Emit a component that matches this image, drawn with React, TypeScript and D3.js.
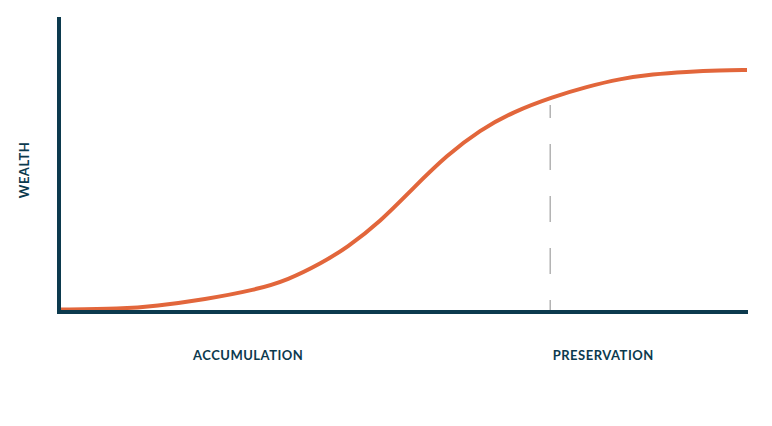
import { useRef, useEffect } from 'react';
import * as d3 from 'd3';

// Wealth curve (time 0-100, wealth 0-100)
const timeValues = [0, 9.1, 14, 21.2, 28.5, 33.3, 38.2, 41.8, 46.7, 51.5, 56.4, 61.2, 66, 71.8, 76.7, 81.5, 86.3, 91.2, 96.1, 100];
const wealthValues = [0.85, 1.1, 2.0, 4.3, 7.5, 10.9, 16.7, 21.8, 30.7, 42.2, 53.4, 61.9, 68.1, 73.2, 76.6, 79.3, 80.9, 81.7, 82.2, 82.3];

const phaseLabels = ['ACCUMULATION', 'PRESERVATION'];
const phaseCenters = [27.5, 79.1];
const phaseBoundary = 71.4;
const yAxisLabel = 'WEALTH';

const width = 772;
const height = 426;
const margin = { top: 17, right: 25, bottom: 114, left: 59 };

const navy = '#0c3a4e';
const orange = '#e2663b';
const font = 'Lato, "Open Sans", sans-serif';

export default function App() {
  const svgRef = useRef<SVGSVGElement>(null);

  useEffect(() => {
    if (!svgRef.current) return;
    const svg = d3.select(svgRef.current);
    svg.selectAll('*').remove();

    const x = d3.scaleLinear().domain([0, 100]).range([margin.left, 747]);
    const y = d3.scaleLinear().domain([0, 100]).range([312, 18]);

    const points = timeValues.map((t, i) => [t, wealthValues[i]] as [number, number]);

    // dashed boundary between phases
    svg.append('line')
      .attr('x1', x(phaseBoundary))
      .attr('x2', x(phaseBoundary))
      .attr('y1', 105)
      .attr('y2', y(0))
      .attr('stroke', '#b3b3b3')
      .attr('stroke-width', 1.5)
      .attr('stroke-dasharray', '26 26')
      .attr('stroke-dashoffset', 13);

    // curve
    const line = d3.line<[number, number]>()
      .x((d) => x(d[0]))
      .y((d) => y(d[1]))
      .curve(d3.curveBasis);

    svg.append('path')
      .datum(points)
      .attr('d', line)
      .attr('fill', 'none')
      .attr('stroke', orange)
      .attr('stroke-width', 4);

    // axes
    svg.append('line')
      .attr('x1', margin.left)
      .attr('x2', margin.left)
      .attr('y1', margin.top)
      .attr('y2', y(0) + 2)
      .attr('stroke', navy)
      .attr('stroke-width', 4);

    svg.append('line')
      .attr('x1', margin.left - 2)
      .attr('x2', 748)
      .attr('y1', y(0))
      .attr('y2', y(0))
      .attr('stroke', navy)
      .attr('stroke-width', 4);

    // labels
    svg.selectAll('text.phase')
      .data(phaseLabels)
      .join('text')
      .attr('class', 'phase')
      .attr('x', (_, i) => x(phaseCenters[i]))
      .attr('y', 360)
      .attr('text-anchor', 'middle')
      .attr('font-family', font)
      .attr('font-weight', 700)
      .attr('font-size', 13)
      .attr('letter-spacing', 0.5)
      .attr('fill', navy)
      .text((d) => d);

    svg.append('text')
      .attr('transform', `translate(29,${170}) rotate(-90)`)
      .attr('text-anchor', 'middle')
      .attr('font-family', font)
      .attr('font-weight', 700)
      .attr('font-size', 13)
      .attr('letter-spacing', 0.5)
      .attr('fill', navy)
      .text(yAxisLabel);
  }, []);

  return (
    <svg
      ref={svgRef}
      width={width}
      height={height}
      style={{ position: 'absolute', left: 0, top: 0, background: '#fff' }}
    />
  );
}
